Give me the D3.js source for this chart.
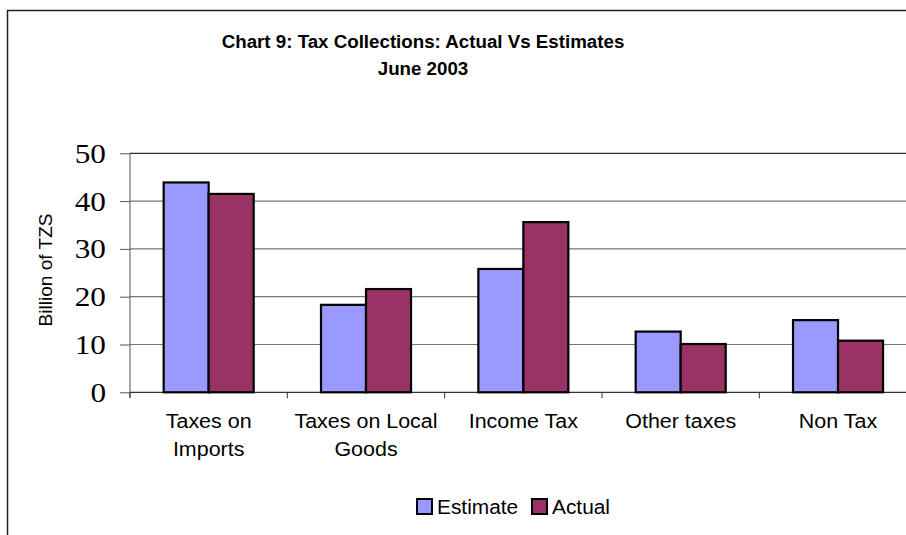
<!DOCTYPE html>
<html><head><meta charset="utf-8">
<script src="https://cdn.jsdelivr.net/npm/d3@7/dist/d3.min.js"></script>
<style>body{margin:0;background:#fff}svg{display:block}</style>
</head><body>
<svg id="c" width="906" height="535"></svg>
<script>
const categories = [["Taxes on","Imports"],["Taxes on Local","Goods"],["Income Tax"],["Other taxes"],["Non Tax"]];
const seriesNames = ["Estimate","Actual"];
const estimate = [43.9, 18.3, 25.8, 12.7, 15.1];
const actual = [41.5, 21.6, 35.6, 10.1, 10.8];
const yTicks = [0,10,20,30,40,50];
const colors = ["#9999FF","#993366"];
const title = ["Chart 9: Tax Collections: Actual Vs Estimates","June 2003"];
const yTitle = "Billion of TZS";
const SANS = "'Liberation Sans',Arial,sans-serif";

function stretch(sel, f){
  sel.each(function(){
    const len = this.getComputedTextLength();
    d3.select(this).attr("textLength", len*f).attr("lengthAdjust","spacingAndGlyphs");
  });
}

const svg = d3.select("#c");
// frame
svg.append("path").attr("d","M7.5,535 L7.5,10.5 L906,10.5").attr("fill","none").attr("stroke","#222").attr("stroke-width",1.5);

const L=130, R=916.7, T=153.3, B=392.3;
const keys = categories.map((c,i)=>i);
const x0 = d3.scaleBand().domain(keys).range([L,R]).padding(0);
const x1 = d3.scaleBand().domain(seriesNames).range([0,x0.bandwidth()]).paddingInner(0).paddingOuter(0.748);
const y = d3.scaleLinear().domain([0,50]).range([B,T]);

// gridlines
svg.append("g").selectAll("line").data(yTicks.filter(t=>t>0)).join("line")
  .attr("x1",L).attr("x2",906).attr("y1",d=>y(d)).attr("y2",d=>y(d))
  .attr("stroke",d=>d===50?"#333":"#777").attr("stroke-width",1.2);

// y axis
const ya = svg.append("g").attr("transform",`translate(${L},0)`).call(d3.axisLeft(y).tickValues(yTicks).tickSize(10).tickPadding(14));
ya.select(".domain").attr("stroke","#555").attr("d",`M0,${T}V${B+5}`);
ya.selectAll(".tick line").attr("stroke","#555");
ya.selectAll(".tick text").attr("font-family","'Liberation Serif','Times New Roman',serif").attr("font-size",26.5).attr("fill","#000").attr("dy","0.34em")
  .call(stretch,1.18);

// x axis
svg.append("line").attr("x1",L).attr("x2",906).attr("y1",B).attr("y2",B).attr("stroke","#333").attr("stroke-width",1.2);
svg.append("g").selectAll("line").data(keys.concat([keys.length])).join("line")
  .attr("x1",d=>L+d*x0.step()).attr("x2",d=>L+d*x0.step()).attr("y1",B).attr("y2",B+6).attr("stroke","#333");

// bars
const data = keys.map(i=>({i, vals:[estimate[i],actual[i]]}));
const g = svg.append("g").selectAll("g").data(data).join("g").attr("transform",d=>`translate(${x0(d.i)},0)`);
g.selectAll("rect").data(d=>d.vals.map((v,j)=>({v,j}))).join("rect")
  .attr("x",d=>x1(seriesNames[d.j])).attr("width",x1.bandwidth())
  .attr("y",d=>y(d.v)).attr("height",d=>B-y(d.v))
  .attr("fill",d=>colors[d.j]).attr("stroke","#000").attr("stroke-width",2.2);

// x labels
const xl = svg.append("g").selectAll("text").data(keys.flatMap(i=>categories[i].map((t,k)=>({i,t,k})))).join("text")
  .attr("x",d=>x0(d.i)+x0.bandwidth()/2).attr("y",d=>428+d.k*28)
  .attr("text-anchor","middle").attr("font-family",SANS).attr("font-size",19.5).attr("fill","#000").text(d=>d.t)
  .call(stretch,1.1);

// title
svg.append("g").selectAll("text").data(title).join("text")
  .attr("x",423).attr("y",(d,i)=>48+i*27).attr("text-anchor","middle")
  .attr("font-family",SANS).attr("font-weight","bold").attr("font-size",18).text(d=>d)
  .call(stretch,1.04);

// y title
svg.append("text").attr("transform","translate(52,270) rotate(-90)").attr("text-anchor","middle")
  .attr("font-family",SANS).attr("font-size",18).text(yTitle).call(stretch,1.06);

// legend
const lg = svg.append("g").selectAll("g").data(seriesNames).join("g")
  .attr("transform",(d,i)=>`translate(${i?532:417},499)`);
lg.append("rect").attr("width",15).attr("height",15).attr("fill",(d,i)=>colors[i]).attr("stroke","#000").attr("stroke-width",2);
lg.append("text").attr("x",20).attr("y",14.5).attr("font-family",SANS).attr("font-size",19.5).text(d=>d).call(stretch,1.07);
</script>
</body></html>
